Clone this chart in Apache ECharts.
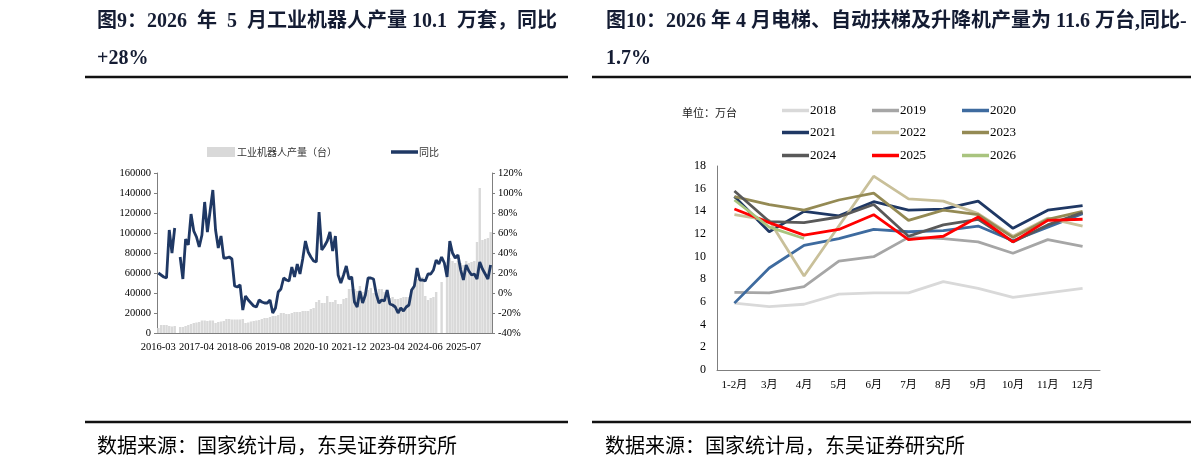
<!DOCTYPE html>
<html>
<head>
<meta charset="utf-8">
<script src="https://cdn.jsdelivr.net/npm/echarts@6/dist/echarts.min.js"></script>
<style>
  html, body { margin: 0; padding: 0; background: #fff; }
  #main { width: 1191px; height: 468px; }
</style>
</head>
<body>
<div id="main"></div>
<script>
// ---------- 图9 数据：2016-03 ~ 2026-05 月度 ----------
const robotMonths = [];
for (let y = 2016, m = 3; y * 100 + m <= 202605; m++) {
  if (m > 12) { m = 1; y++; }
  robotMonths.push(y + '-' + String(m).padStart(2, '0'));
}
// 横轴显示的刻度标签（原图文字）
const robotTickLabels = ['2016-03', '2017-04', '2018-06', '2019-08', '2020-10', '2021-12', '2023-04', '2024-06', '2025-07'];

// 工业机器人产量（台）
const robotOutput = [
  5000, 8000, 8000, 8000, 7000, 6500, 7000, null, 6000, 6000,
  7000, 8000, 9000, 10000, 10500, 11000, 12500, 12500, 12000, 12500,
  12500, 10000, 11000, 11500, 12000, 14000, 14000, 13500, 13500, 13500,
  13500, 14000, 10000, 10500, 11500, 12000, 12500, 13000, 14000, 15000,
  15000, 16000, 17000, 17000, 18000, 20000, 20000, 19000, 19000, 20000,
  21000, 21000, 21000, 22000, 22000, 22000, 24000, 25000, 31000, 33000,
  30000, 30000, 37000, 31000, 31000, 33000, 29000, 29000, 34000, 35000,
  44000, 44000, 44000, 42000, 47000, 41000, 39000, 43000, 45000, 40000,
  41000, 44000, 44000, 41000, 43000, 35000, 36000, 34000, 34000, 35000,
  36000, 36000, 36000, 44000, 46000, 54000, 56000, 56000, 37000, 33000,
  35000, 36000, 41000, null, 51000, null, 68000, 75000, 72000, 70000,
  72000, 70000, 68000, 72000, 70000, 71000, 72000, 91000, 145000, 93000,
  94000, 95000, 101000
];
// 同比（%）
const robotYoy = [
  20, 18, 16, 15, 63, 40, 65, null, 36, 14,
  54, 48, 79, 62, 56, 46, 58, 91, 61, 82,
  103, 63, 45, 57, 35, 35, 36, 34, 7, 6,
  8, -17, -3, -7, -10, -13, -14, -7, -9, -10,
  -10, -7, -20, -15, 1, 4, 15, 13, 12, 26,
  16, 29, 19, 34, 52, 41, 36, 32, 31, 81,
  43, 47, 52, 61, 42, 57, 18, 10, 18, 27,
  14, 16, -9, -14, 2, -10, -2, 15, 15, 14,
  -1, -10, -7, -8, 3, -11, -12, -14, -20, -15,
  -18, -14, -12, 3, 7, 25, 13, 13, 12, 19,
  19, 23, 33, 29, 36, 30, 16, 52, 40, 35,
  38, 23, 13, 28, 22, 18, 19, 14, 31, 24,
  19, 14, 28
];

// ---------- 图10 数据：电梯、自动扶梯及升降机产量（万台） ----------
const liftMonths = ['1-2月', '3月', '4月', '5月', '6月', '7月', '8月', '9月', '10月', '11月', '12月'];
const liftYears = ['2018', '2019', '2020', '2021', '2022', '2023', '2024', '2025', '2026'];
const liftColors = ['#d9d9d9', '#a6a6a6', '#3e6b9f', '#1f3864', '#c9c09a', '#948a54', '#595959', '#ff0000', '#a9c47f'];
const lift2018 = [5.9, 5.6, 5.8, 6.7, 6.8, 6.8, 7.8, 7.2, 6.4, 6.8, 7.2];
const lift2019 = [6.85, 6.8, 7.35, 9.6, 10.0, 11.7, 11.6, 11.3, 10.3, 11.5, 10.9];
const lift2020 = [5.9, 9.0, 11.0, 11.6, 12.4, 12.2, 12.3, 12.7, 11.4, 12.6, 13.8];
const lift2021 = [15.3, 12.2, 14.0, 13.6, 14.85, 14.1, 14.2, 14.9, 12.5, 14.1, 14.5];
const lift2022 = [13.7, 13.2, 8.3, 12.7, 17.1, 15.1, 14.9, 13.8, 11.8, 13.4, 12.7];
const lift2023 = [15.3, 14.6, 14.1, 15.0, 15.6, 13.2, 14.1, 13.7, 11.7, 13.3, 14.0];
const lift2024 = [15.8, 13.1, 13.0, 13.5, 14.6, 11.8, 12.8, 13.3, 11.3, 12.8, 13.9];
const lift2025 = [14.2, 13.0, 11.9, 12.4, 13.7, 11.5, 11.8, 13.5, 11.3, 13.2, 13.3];
const lift2026 = [15.0, 12.6, 11.6];
const liftData = [lift2018, lift2019, lift2020, lift2021, lift2022, lift2023, lift2024, lift2025, lift2026];

const serif = '"Liberation Serif", "Noto Sans CJK SC", serif';
const cjk = '"Noto Sans CJK SC", sans-serif';
const axisGray = '#7f7f7f';
const titleColor = '#141c33';

const chart = echarts.init(document.getElementById('main'));

// 图10 图例 3 列 x 3 行
const legendCols = [782, 872, 962];
const legendRows = [104, 126, 149];
const liftLegends = liftYears.map((y, i) => ({
  data: [y],
  left: legendCols[i % 3],
  top: legendRows[Math.floor(i / 3)],
  padding: 0,
  icon: 'rect',
  itemWidth: 27,
  itemHeight: 3.5,
  itemGap: 0,
  selectedMode: false,
  textStyle: { fontFamily: serif, fontSize: 13, color: '#000', padding: [0, 0, 0, -4] }
}));

const option = {
  backgroundColor: '#fff',
  animation: false,
  grid: [
    { left: 157, top: 173, width: 335, height: 160 },
    { left: 717, top: 166, width: 383, height: 204 }
  ],
  legend: [
    {
      data: ['工业机器人产量（台）'],
      left: 207, top: 147, padding: 0,
      icon: 'rect', itemWidth: 28, itemHeight: 10,
      selectedMode: false,
      textStyle: { fontFamily: cjk, fontSize: 10, color: '#333', padding: [0, 0, 0, -3] }
    },
    {
      data: ['同比'],
      left: 391, top: 147, padding: 0,
      icon: 'rect', itemWidth: 27, itemHeight: 3.5,
      selectedMode: false,
      textStyle: { fontFamily: cjk, fontSize: 10, color: '#333', padding: [0, 0, 0, -4] }
    }
  ].concat(liftLegends),
  xAxis: [
    {
      type: 'category', gridIndex: 0, data: robotMonths,
      axisLine: { lineStyle: { color: axisGray } },
      axisTick: { inside: true, length: 3, interval: 0, lineStyle: { color: axisGray } },
      axisLabel: {
        interval: 13, margin: 9, fontFamily: serif, fontSize: 10.5, color: '#000',
        formatter: (v, i) => robotTickLabels[Math.round(i / 14)] || ''
      }
    },
    {
      type: 'category', gridIndex: 1, data: liftMonths,
      axisLine: { lineStyle: { color: axisGray } },
      axisTick: { inside: true, length: 4, lineStyle: { color: axisGray } },
      axisLabel: { margin: 10, fontFamily: serif, fontSize: 11, color: '#000' }
    }
  ],
  yAxis: [
    {
      type: 'value', gridIndex: 0, min: 0, max: 160000, interval: 20000,
      splitLine: { show: false },
      axisLine: { show: true, lineStyle: { color: axisGray } },
      axisTick: { show: true, length: 3, lineStyle: { color: axisGray } },
      axisLabel: { margin: 6, fontFamily: serif, fontSize: 10.5, color: '#000', formatter: v => String(v) }
    },
    {
      type: 'value', gridIndex: 0, position: 'right', min: -40, max: 120, interval: 20,
      splitLine: { show: false },
      axisLine: { show: true, lineStyle: { color: axisGray } },
      axisTick: { show: true, length: 3, lineStyle: { color: axisGray } },
      axisLabel: { margin: 6, fontFamily: serif, fontSize: 10.5, color: '#000', formatter: '{value}%' }
    },
    {
      type: 'value', gridIndex: 1, min: 0, max: 18, interval: 2,
      splitLine: { show: false },
      axisLine: { show: true, lineStyle: { color: axisGray } },
      axisTick: { show: false },
      axisLabel: { margin: 11, fontFamily: serif, fontSize: 12, color: '#000' }
    }
  ],
  series: [
    {
      name: '工业机器人产量（台）', type: 'bar', xAxisIndex: 0, yAxisIndex: 0,
      data: robotOutput, barCategoryGap: '12%',
      itemStyle: { color: '#d9d9d9' }
    },
    {
      name: '同比', type: 'line', xAxisIndex: 0, yAxisIndex: 1,
      data: robotYoy, showSymbol: false, connectNulls: false,
      lineStyle: { color: '#1f3864', width: 2.8 },
      itemStyle: { color: '#1f3864' }
    }
  ].concat(liftYears.map((y, i) => ({
    name: y, type: 'line', xAxisIndex: 1, yAxisIndex: 2,
    data: liftData[i], showSymbol: false,
    lineStyle: { color: liftColors[i], width: 2.8 },
    itemStyle: { color: liftColors[i] }
  }))),
  graphic: [
    // 标题
    { type: 'text', left: 97, top: 12,
      style: { text: '图9：2026  年  5  月工业机器人产量 10.1  万套，同比', font: 'bold 20px ' + serif, fill: titleColor } },
    { type: 'text', left: 97, top: 49,
      style: { text: '+28%', font: 'bold 20px ' + serif, fill: titleColor } },
    { type: 'text', left: 606, top: 12,
      style: { text: '图10：2026 年 4 月电梯、自动扶梯及升降机产量为 11.6 万台,同比-', font: 'bold 20px ' + serif, fill: titleColor } },
    { type: 'text', left: 606, top: 49,
      style: { text: '1.7%', font: 'bold 20px ' + serif, fill: titleColor } },
    // 标题下横线
    { type: 'line', shape: { x1: 85, y1: 77, x2: 568, y2: 77 }, style: { stroke: '#111', lineWidth: 2.5 } },
    { type: 'line', shape: { x1: 592, y1: 77, x2: 1191, y2: 77 }, style: { stroke: '#111', lineWidth: 2.5 } },
    // 底部横线
    { type: 'line', shape: { x1: 85, y1: 422, x2: 568, y2: 422 }, style: { stroke: '#111', lineWidth: 2.5 } },
    { type: 'line', shape: { x1: 592, y1: 422, x2: 1191, y2: 422 }, style: { stroke: '#111', lineWidth: 2.5 } },
    // 单位
    { type: 'text', left: 682, top: 107,
      style: { text: '单位：万台', font: '11px ' + cjk, fill: '#222' } },
    // 数据来源
    { type: 'text', left: 97, top: 435,
      style: { text: '数据来源：国家统计局，东吴证券研究所', font: '20px ' + cjk, fill: '#000' } },
    { type: 'text', left: 605, top: 435,
      style: { text: '数据来源：国家统计局，东吴证券研究所', font: '20px ' + cjk, fill: '#000' } }
  ]
};

chart.setOption(option);
</script>
</body>
</html>
